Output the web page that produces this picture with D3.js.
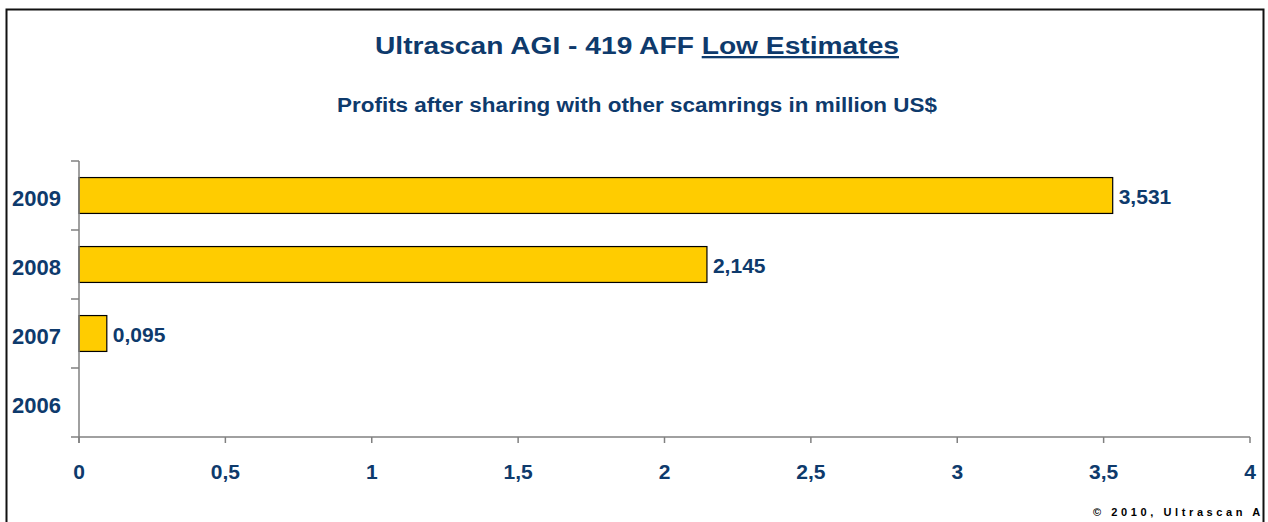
<!DOCTYPE html>
<html><head><meta charset="utf-8">
<script src="https://cdn.jsdelivr.net/npm/d3@7/dist/d3.min.js"></script>
<style>
html,body{margin:0;padding:0;background:#fff;}
svg{display:block;}
text{font-family:"Liberation Sans",Arial,sans-serif;font-weight:bold;}
</style></head>
<body>
<svg id="chart" width="1268" height="522"></svg>
<script>
const categories = ["2009", "2008", "2007", "2006"];
const values = [3.531, 2.145, 0.095, null];
const valueLabels = ["3,531", "2,145", "0,095", ""];
const xTicks = [0, 0.5, 1, 1.5, 2, 2.5, 3, 3.5, 4];
const xTickLabels = ["0", "0,5", "1", "1,5", "2", "2,5", "3", "3,5", "4"];

const navy = "#0e3a6c";
const svg = d3.select("#chart");

// frame
svg.append("path").attr("d", "M6.5,522 V9.5 H1263.5 V522")
  .attr("fill", "none").attr("stroke", "#111").attr("stroke-width", 2);

// title
const title = svg.append("text").attr("x", 375).attr("y", 54)
  .attr("font-size", 23).attr("fill", navy)
  .attr("textLength", 524).attr("lengthAdjust", "spacingAndGlyphs");
title.append("tspan").text("Ultrascan AGI - 419 AFF ");
title.append("tspan").attr("text-decoration", "underline").text("Low Estimates");

svg.append("text").attr("x", 337).attr("y", 112)
  .attr("font-size", 20).attr("fill", navy)
  .attr("textLength", 600).attr("lengthAdjust", "spacingAndGlyphs")
  .text("Profits after sharing with other scamrings in million US$");

const x = d3.scaleLinear().domain([0, 4]).range([79, 1250]);
const y = d3.scaleBand().domain(categories).range([161, 437]).paddingInner(0.48).paddingOuter(0.24);
const band = d3.scaleBand().domain(categories).range([161, 437]);

const rows = categories.map((c, i) => ({c, v: values[i], l: valueLabels[i]})).filter(d => d.v != null);

// bars
svg.selectAll("rect.bar").data(rows)
  .enter().append("rect").attr("class", "bar")
  .attr("x", x(0)).attr("y", d => y(d.c))
  .attr("width", d => x(d.v) - x(0)).attr("height", y.bandwidth())
  .attr("fill", "#ffcc00").attr("stroke", "#000").attr("stroke-width", 1.2);

svg.selectAll("text.val").data(rows)
  .enter().append("text").attr("class", "val")
  .attr("x", d => x(d.v) + 6).attr("y", d => y(d.c) + y.bandwidth() / 2 + 8)
  .attr("font-size", 21).attr("fill", navy).text(d => d.l);

// x axis
const xAxis = svg.append("g").attr("transform", "translate(0,437)");
xAxis.append("line").attr("x1", 71).attr("x2", 1250).attr("stroke", "#808080").attr("stroke-width", 1.5);
xAxis.selectAll("line.t").data(xTicks).enter().append("line").attr("class", "t")
  .attr("x1", d => x(d)).attr("x2", d => x(d)).attr("y1", 0).attr("y2", 6)
  .attr("stroke", "#808080").attr("stroke-width", 1.5);
xAxis.selectAll("text").data(xTicks).enter().append("text")
  .attr("x", d => x(d)).attr("y", 42).attr("text-anchor", "middle")
  .attr("font-size", 21).attr("fill", navy).text((d, i) => xTickLabels[i]);

// y axis
const yAxis = svg.append("g");
yAxis.append("line").attr("x1", 79).attr("x2", 79).attr("y1", 161).attr("y2", 443)
  .attr("stroke", "#808080").attr("stroke-width", 1.5);
const yTickPos = categories.map(c => band(c));
yAxis.selectAll("line.t").data(yTickPos).enter().append("line").attr("class", "t")
  .attr("x1", 71).attr("x2", 79).attr("y1", d => d).attr("y2", d => d)
  .attr("stroke", "#808080").attr("stroke-width", 1.5);
yAxis.selectAll("text").data(categories).enter().append("text")
  .attr("x", 61).attr("y", c => band(c) + band.bandwidth() / 2 + 10.5)
  .attr("text-anchor", "end").attr("font-size", 22).attr("fill", navy).text(c => c);

// copyright (the visible part, as in the original)
svg.append("text").attr("x", 1093).attr("y", 516)
  .attr("font-size", 11).attr("fill", "#000").attr("letter-spacing", 3.6)
  .text("© 2010, Ultrascan A");
</script>
</body></html>
